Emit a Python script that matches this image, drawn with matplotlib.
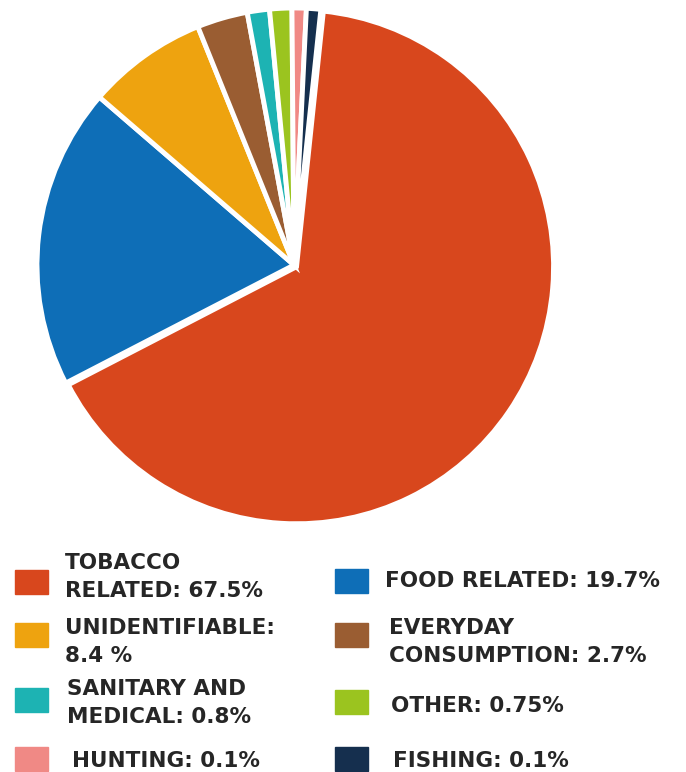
import matplotlib.pyplot as plt
from matplotlib.patches import Rectangle

# categories in the order the slices run clockwise from the top
categories = ['TOBACCO\nRELATED: 67.5%', 'FOOD RELATED: 19.7%', 'UNIDENTIFIABLE:\n8.4 %',
              'EVERYDAY\nCONSUMPTION: 2.7%', 'SANITARY AND\nMEDICAL: 0.8%', 'OTHER: 0.75%',
              'HUNTING: 0.1%', 'FISHING: 0.1%']
# slice sizes as drawn in the picture (small ones are drawn wider than their value)
slice_sizes = [66.0, 19.0, 7.6, 3.2, 1.4, 1.4, 0.9, 0.9]
colors = ['#D8471D', '#0E6EB7', '#EEA30F', '#9A5D32', '#1DB3B3', '#9BC41F', '#F08985', '#152F4E']

W, H = 686, 772
fig = plt.figure(figsize=(W / 100, H / 100), dpi=100)

# pie: center (294, 265) px, radius 257 px
cx, cy, r = 294, 265, 257
ax = fig.add_axes([(cx - r) / W, (H - cy - r) / H, 2 * r / W, 2 * r / H])
ax.pie(slice_sizes, colors=colors, startangle=84, counterclock=False,
       explode=[0.012, 0, 0, 0, 0, 0, 0, 0],
       wedgeprops=dict(edgecolor='white', linewidth=3.5))
ax.set_xlim(-1.0, 1.0)
ax.set_ylim(-1.0, 1.0)
ax.set_aspect('equal')
ax.axis('off')

# legend, hand placed: (swatch x, swatch top y, text x, text top y) in pixels
legend_pos = [
    (15, 570, 65, 557),
    (335, 569, 385, 575),
    (15, 623, 65, 622),
    (335, 623, 389, 622),
    (15, 688, 67, 683),
    (335, 690, 391, 700),
    (15, 747, 72, 755),
    (335, 747, 393, 755),
]

for (sx, sy, tx, ty), label, col in zip(legend_pos, categories, colors):
    fig.patches.append(Rectangle((sx / W, 1 - (sy + 24) / H), 33 / W, 24 / H,
                                 transform=fig.transFigure, color=col))
    fig.text(tx / W, 1 - (ty - 4) / H, label, ha='left', va='top',
             fontsize=15.5, fontweight='bold', color='#262626',
             family='DejaVu Sans', linespacing=1.5)

fig.savefig('out.png', dpi=100)
